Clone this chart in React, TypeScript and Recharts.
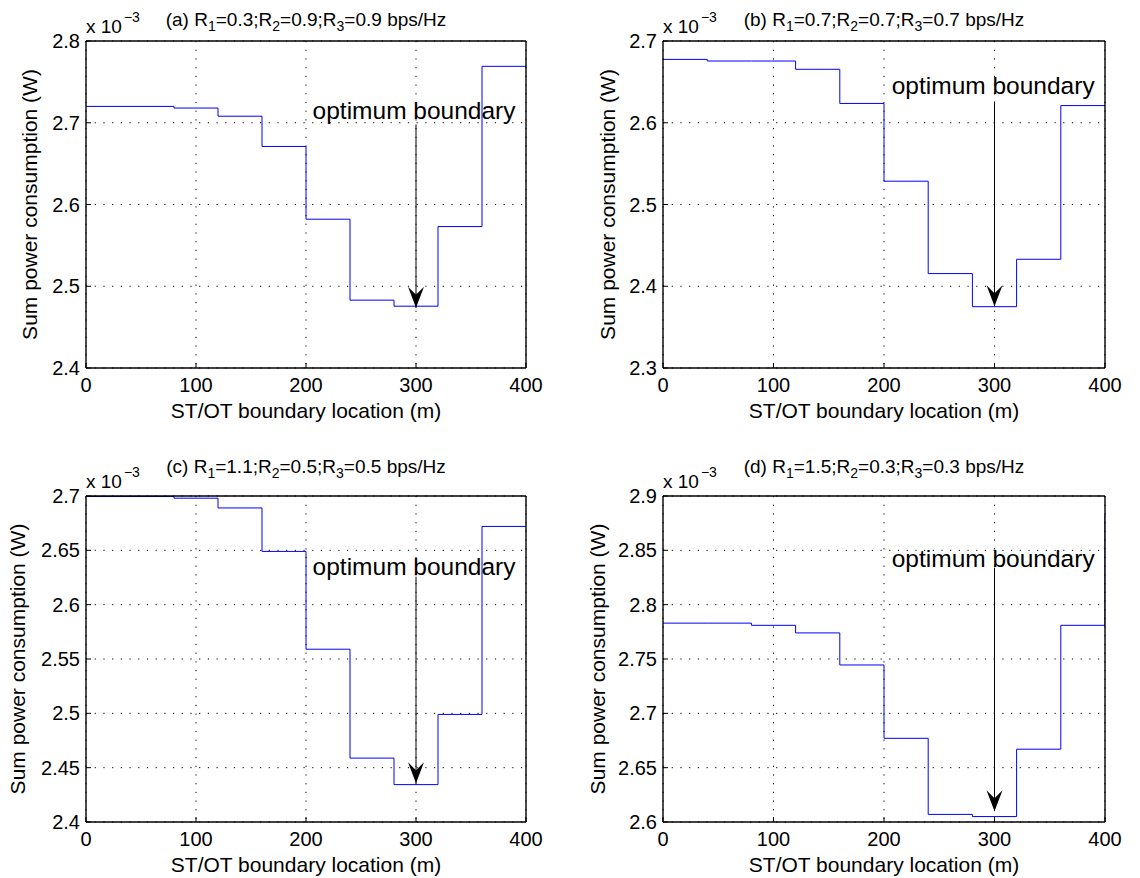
import React from "react";
import {
  LineChart,
  Line,
  XAxis,
  YAxis,
  CartesianGrid,
  ReferenceLine,
  ReferenceDot,
  Label
} from "recharts";

// boundary locations (m), stairs sampled every 40 m
const locations = [0, 40, 80, 120, 160, 200, 240, 280, 320, 360, 400];

// sum power consumption, in units of 1e-3 W
const powerA = [2.72, 2.72, 2.718, 2.708, 2.671, 2.582, 2.483, 2.4756, 2.573, 2.769, 2.769];
const powerB = [2.6775, 2.6755, 2.6755, 2.6654, 2.6236, 2.5285, 2.4155, 2.375, 2.433, 2.621, 2.621];
const powerC = [2.6995, 2.6995, 2.698, 2.689, 2.649, 2.559, 2.4588, 2.4344, 2.499, 2.672, 2.672];
const powerD = [2.783, 2.783, 2.781, 2.774, 2.7445, 2.677, 2.607, 2.605, 2.667, 2.781, 2.883];

const xTicks = [0, 100, 200, 300, 400];
const yTicksA = [2.4, 2.5, 2.6, 2.7, 2.8];
const yTicksB = [2.3, 2.4, 2.5, 2.6, 2.7];
const yTicksC = [2.4, 2.45, 2.5, 2.55, 2.6, 2.65, 2.7];
const yTicksD = [2.6, 2.65, 2.7, 2.75, 2.8, 2.85, 2.9];

const panelLetters = ["a", "b", "c", "d"];
const panelRates = [
  ["0.3", "0.9", "0.9"],
  ["0.7", "0.7", "0.7"],
  ["1.1", "0.5", "0.5"],
  ["1.5", "0.3", "0.3"]
];

const optimumLocation = 300;
// arrow start / tip values per panel
const arrowTop = [2.698, 2.626, 2.6257, 2.834];
const arrowTip = [2.4736, 2.3756, 2.4356, 2.61];
// "optimum boundary" text anchor (start x, baseline y)
const noteX = [206, 207, 206, 207];
const noteY = [2.704, 2.6346, 2.627, 2.835];

const FONT = "'Liberation Sans', Arial, Helvetica, sans-serif";

const Arrowhead = (p: any) => {
  const { cx, cy } = p;
  return (
    <path
      d={`M${cx},${cy} L${cx - 8},${cy - 21} L${cx},${cy - 13} L${cx + 8},${cy - 21} Z`}
      fill="#000"
      stroke="none"
    />
  );
};

const Note = (p: any) => (
  <text x={p.cx} y={p.cy} fontSize={24.5} fontFamily={FONT} fill="#000">
    optimum boundary
  </text>
);

type PanelProps = {
  idx: number;
  series: number[];
  yTicks: number[];
  left: number;
  top: number;
  margin: { top: number; right: number; bottom: number; left: number };
  titleGap: number;
  yLabelGap: number;
};

const Panel = ({ idx, series, yTicks, left, top, margin, titleGap, yLabelGap }: PanelProps) => {
  const data = locations.map((x, i) => ({ location: x, power: series[i] }));
  const domain: [number, number] = [yTicks[0], yTicks[yTicks.length - 1]];
  const rates = panelRates[idx];

  // top axis box is 1px tall, so its bottom edge is the plot top
  const titleContent = (props: any) => {
    const { x, y, width, height } = props.viewBox;
    const top0 = y + height;
    return (
      <g fontFamily={FONT} fill="#000">
        <text x={x + width / 2} y={top0 - titleGap} textAnchor="middle" fontSize={19}>
          ({panelLetters[idx]}) R
          <tspan dy={5} fontSize={14}>1</tspan>
          <tspan dy={-5}>={rates[0]};R</tspan>
          <tspan dy={5} fontSize={14}>2</tspan>
          <tspan dy={-5}>={rates[1]};R</tspan>
          <tspan dy={5} fontSize={14}>3</tspan>
          <tspan dy={-5}>={rates[2]} bps/Hz</tspan>
        </text>
        <text x={x} y={top0 - 8} fontSize={19}>
          x 10
          <tspan dx={2} dy={-11} fontSize={14}>−3</tspan>
        </text>
      </g>
    );
  };

  const xLabelContent = (props: any) => {
    const { x, y, width } = props.viewBox;
    return (
      <text x={x + width / 2} y={y + 50} textAnchor="middle" fontSize={21} fontFamily={FONT} fill="#000">
        ST/OT boundary location (m)
      </text>
    );
  };

  const yLabelContent = (props: any) => {
    const { x, y, width, height } = props.viewBox;
    const cx = x + width - yLabelGap;
    const cy = y + height / 2;
    return (
      <text
        x={cx}
        y={cy}
        transform={`rotate(-90, ${cx}, ${cy})`}
        textAnchor="middle"
        dominantBaseline="central"
        fontSize={21}
        fontFamily={FONT}
        fill="#000"
      >
        Sum power consumption (W)
      </text>
    );
  };

  const axisStyle = { stroke: "#000", strokeWidth: 1.4 };
  const tickStyle = { fill: "#000", fontSize: 20, fontFamily: FONT };

  return (
    <div style={{ position: "absolute", left, top }}>
      <LineChart width={570} height={439} data={data} margin={margin} style={{ overflow: "visible" }}>
        <CartesianGrid stroke="#000" strokeDasharray="1.2 7.5" strokeWidth={1} />
        <XAxis
          dataKey="location"
          type="number"
          domain={[0, 400]}
          ticks={xTicks}
          height={1}
          tickSize={-5}
          tickMargin={15}
          axisLine={axisStyle}
          tickLine={{ stroke: "#000" }}
          tick={tickStyle}
          allowDataOverflow
        >
          <Label content={xLabelContent} />
        </XAxis>
        <XAxis
          xAxisId="top"
          orientation="top"
          type="number"
          domain={[0, 400]}
          ticks={xTicks}
          height={1}
          tickSize={-5}
          axisLine={axisStyle}
          tickLine={{ stroke: "#000" }}
          tick={false}
          allowDataOverflow
        >
          <Label content={titleContent} />
        </XAxis>
        <YAxis
          type="number"
          domain={domain}
          ticks={yTicks}
          width={1}
          tickSize={-5}
          tickMargin={11}
          axisLine={axisStyle}
          tickLine={{ stroke: "#000" }}
          tick={tickStyle}
          allowDataOverflow
        >
          <Label content={yLabelContent} />
        </YAxis>
        <YAxis
          yAxisId="right"
          orientation="right"
          type="number"
          domain={domain}
          ticks={yTicks}
          width={1}
          tickSize={-5}
          axisLine={axisStyle}
          tickLine={{ stroke: "#000" }}
          tick={false}
          allowDataOverflow
        />
        <Line
          type="stepAfter"
          dataKey="power"
          stroke="#0000ff"
          strokeWidth={1}
          dot={false}
          isAnimationActive={false}
        />
        <ReferenceLine
          segment={[
            { x: optimumLocation, y: arrowTop[idx] },
            { x: optimumLocation, y: arrowTip[idx] }
          ]}
          stroke="#000"
          strokeWidth={1}
        />
        <ReferenceDot x={optimumLocation} y={arrowTip[idx]} r={0} shape={Arrowhead} />
        <ReferenceDot x={noteX[idx]} y={noteY[idx]} r={0} shape={Note} />
      </LineChart>
    </div>
  );
};

export default function App() {
  return (
    <div
      style={{
        position: "absolute",
        left: 0,
        top: 0,
        width: 1140,
        height: 878,
        background: "#fff"
      }}
    >
      <Panel idx={0} series={powerA} yTicks={yTicksA} left={0} top={0}
        margin={{ top: 40, right: 43, bottom: 70, left: 85 }} titleGap={15} yLabelGap={57} />
      <Panel idx={1} series={powerB} yTicks={yTicksB} left={570} top={0}
        margin={{ top: 40, right: 34, bottom: 70, left: 92 }} titleGap={15} yLabelGap={56} />
      <Panel idx={2} series={powerC} yTicks={yTicksC} left={0} top={439}
        margin={{ top: 56, right: 43, bottom: 55, left: 85 }} titleGap={23} yLabelGap={69} />
      <Panel idx={3} series={powerD} yTicks={yTicksD} left={570} top={439}
        margin={{ top: 56, right: 34, bottom: 55, left: 92 }} titleGap={23} yLabelGap={66} />
    </div>
  );
}
